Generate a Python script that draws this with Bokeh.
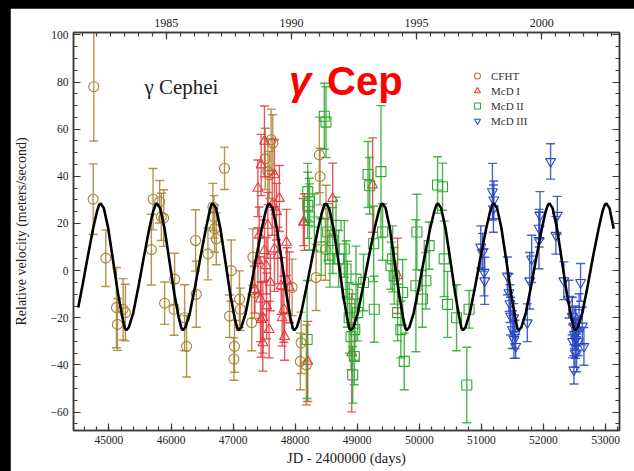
import numpy as np
from bokeh.plotting import figure
from bokeh.models import (Range1d, LinearAxis, SingleIntervalTicker,
                          Label, Legend, LegendItem)
from bokeh.layouts import column
from bokeh.embed import file_html
from bokeh.resources import INLINE

# ---------------- data ----------------
cfht_jd = [44756, 44746, 44949, 45121, 45137, 45228, 45265, 45683, 45711, 45817,
           45844, 45881, 45897, 46058, 46048, 46219, 46251, 46396, 46407, 46595,
           46675, 46691, 46701, 46729, 46862, 46970, 46943, 47023, 47013, 47103,
           47115, 47319, 47344, 47517, 47613, 47640, 47560, 47586, 47951, 48095,
           48084, 48337, 48486, 48497, 48390, 48401, 48180, 47300]
cfht_rv = [78.0, 30.3, 5.3, -15.7, -22.8, -16.4, -17.8, 8.9, 30.3, 29.2,
           22.8, 22.3, -13.8, -3.6, -16.4, -20.0, -32.1, 12.8, -10.0, 7.1,
           27.0, 22.8, 17.8, 13.5, 43.4, 0.0, -19.3, -32.1, -37.5, -12.1,
           -16.4, 5.7, -9.3, 47.4, 55.5, 54.1, 42.0, 40.6, -7.1, -30.6,
           -38.5, -2.9, 8.9, 24.2, 49.1, 39.9, -40.0, -22.0]
cfht_err = [23, 15, 12, 17, 11, 13, 12, 15, 13, 9,
            10, 12, 9, 11, 11, 14, 13, 13, 14, 11,
            10, 9, 10, 11, 9, 13, 9, 11, 9, 12,
            9, 12, 11, 13, 13, 12, 14, 10, 12, 13,
            12, 14, 13, 12, 16, 12, 17, 12]

mcd1_jd = [47399, 47441, 47452, 47479, 47505, 47533, 47560, 47666, 47721, 47774,
           47817, 47870, 47907, 48203, 48132, 47452, 47505, 47746, 47399, 47666,
           48149, 48605, 49248, 49650, 48911, 47480, 47600, 47700, 47830, 47350,
           47420, 47540, 47630, 47790, 47860, 47580]
mcd1_rv = [4.2, -12.1, -20.7, -30.6, 8.5, 2.1, 19.2, 9.2, 6.4, -6.5,
           -16.4, -4.3, -7.1, -38.5, 20.6, 44.8, 54.8, 30.6, 34.9, 40.6,
           20.6, 30.6, 36.3, -2.2, -34.9, -20.0, -5.0, 25.0, -28.0, -8.0,
           15.0, -15.0, 28.0, -20.0, 12.0, -25.0]
mcd1_err = [14, 18, 16, 12, 13, 12, 14, 18, 12, 12,
            14, 14, 15, 17, 10, 13, 15, 14, 12, 15,
            12, 15, 20, 16, 25, 15, 12, 12, 10, 10,
            12, 14, 13, 12, 14, 12]

mcd2_jd = [48203, 48229, 48192, 48525, 48605, 48203, 48229, 48470, 48497, 48309,
           48819, 48927, 48953, 48980, 49007, 48792, 48658, 49265, 49382, 49274,
           49409, 49570, 49596, 49650, 49703, 49757, 49961, 49945, 50106, 50159,
           50294, 50374, 50400, 50454, 50765, 50802, 49543, 49731, 49174, 49200,
           48870, 48900, 48700, 49100, 48420, 50050, 50600, 48560, 48840, 48960]
mcd2_rv = [27.7, 22.8, -29.2, 16.4, 12.8, 33.5, 29.2, 65.5, 63.0, 20.6,
           0.7, -44.2, -36.4, -3.6, -17.8, 9.2, 19.2, 11.4, 42.0, -16.4,
           16.4, 5.0, -2.2, -17.8, -25.0, -38.5, 16.4, -6.4, -4.3, 10.6,
           36.3, 35.6, 5.0, -14.3, -48.5, -16.4, 2.1, -9.3, 40.8, 36.0,
           -20.0, -28.0, 5.0, -5.0, 10.0, -12.0, -20.0, 5.0, -10.0, -25.0]
mcd2_err = [14, 14, 25, 12, 14, 12, 10, 14, 15, 12,
            12, 12, 12, 14, 12, 12, 12, 16, 28, 14,
            12, 14, 12, 12, 12, 12, 16, 28, 12, 10,
            12, 10, 16, 14, 16, 8, 10, 14, 14, 12,
            15, 14, 12, 12, 12, 12, 14, 12, 14, 13]

mcd3_jd = [51017, 51043, 51054, 51178, 51194, 51419, 51445, 51472, 51500, 51525,
           51553, 51740, 51778, 51810, 51928, 51944, 52115, 52223, 52329, 52410,
           52464, 52491, 52518, 52534, 52491, 52574, 52598, 52625, 52652, 51200,
           51520, 51540, 52500, 52520, 52540, 52560, 52470, 52510, 52200, 51930,
           50990, 51460]
mcd3_rv = [7.8, -0.7, -4.3, 33.5, 26.3, -2.2, -9.3, -19.3, -25.0, -29.2,
           -32.1, -22.1, -4.3, 5.0, 12.8, 23.5, 46.3, 23.5, -4.3, -12.1,
           -19.3, -23.5, -29.2, -34.9, -42.1, -17.8, -5.0, -23.5, -32.1, 30.0,
           -20.0, -27.0, -27.0, -22.0, -26.0, -30.0, -30.0, -35.0, 15.0, 18.0,
           10.0, -14.0]
mcd3_err = [8, 10, 10, 12, 10, 8, 8, 8, 8, 8,
            5, 8, 12, 10, 12, 10, 7.5, 8, 8, 8,
            8, 8, 8, 8, 6, 8, 8, 8, 8, 8,
            6, 6, 6, 7, 6, 6, 7, 6, 8, 8,
            9, 8]

# orbit fit curve
fit_jd = [44505, 44576, 44666, 44746, 44806, 44843, 44868,
          44918, 44988, 45068, 45148, 45218, 45256, 45281,
          45321, 45391, 45481, 45571, 45651, 45711, 45750, 45775,
          45825, 45895, 45975, 46055, 46125, 46168, 46193,
          46233, 46303, 46393, 46483, 46563, 46620, 46650, 46675,
          46725, 46795, 46875, 46955, 47025, 47068, 47093,
          47133, 47203, 47293, 47383, 47463, 47523, 47560, 47585,
          47635, 47705, 47785, 47860, 47925, 47962, 47987,
          48027, 48097, 48190, 48285, 48370, 48435, 48472, 48497,
          48547, 48617, 48697, 48772, 48837, 48874, 48899,
          48939, 49009, 49100, 49195, 49280, 49345, 49383, 49408,
          49458, 49525, 49600, 49675, 49740, 49775, 49799,
          49839, 49909, 50000, 50092, 50175, 50240, 50277, 50302,
          50352, 50422, 50502, 50580, 50645, 50680, 50704,
          50744, 50814, 50905, 50995, 51078, 51140, 51178, 51203,
          51253, 51323, 51403, 51480, 51545, 51580, 51605,
          51645, 51715, 51805, 51895, 51975, 52035, 52073, 52098,
          52148, 52218, 52298, 52378, 52450, 52491, 52516,
          52556, 52626, 52716, 52806, 52890, 52950, 52989, 53014,
          53064, 53132]
fit_rv = [-15.6, -6, 7, 18, 25, 28, 28.5,
          26.5, 18, 4, -10, -20, -24.5, -25.3,
          -24, -18, -6, 7, 18, 25, 28, 28.5,
          26.5, 18, 4, -10, -20, -24.5, -25.3,
          -24, -18, -6, 7, 18, 25, 28, 28.5,
          26.5, 18, 4, -10, -20, -24.5, -25.3,
          -24, -18, -6, 7, 18, 25, 28, 28.5,
          26.5, 18, 4, -10, -20, -24.5, -25.3,
          -24, -18, -6, 7, 18, 25, 28, 28.5,
          26.5, 18, 4, -10, -20, -24.5, -25.3,
          -24, -18, -6, 7, 18, 25, 28, 28.5,
          26.5, 18, 4, -10, -20, -24.5, -25.3,
          -24, -18, -6, 7, 18, 25, 28, 28.5,
          26.5, 18, 4, -10, -20, -24.5, -25.3,
          -24, -18, -6, 7, 18, 25, 28, 28.5,
          26.5, 18, 4, -10, -20, -24.5, -25.3,
          -24, -18, -6, 7, 18, 25, 28, 28.5,
          26.5, 18, 4, -10, -20, -24.5, -25.3,
          -24, -18, -6, 7, 18, 25, 28, 28.5,
          26.5, 17.8]

series_names = ["CFHT", "McD I", "McD II", "McD III"]

# ---------------- figure ----------------
SERIF = "Liberation Serif"
AX = "#3a3a3a"

p = figure(width=624, height=463, x_range=Range1d(44429, 53225), y_range=Range1d(-67.8, 101.0),
           output_backend="svg", toolbar_location=None,
           min_border_left=62, min_border_top=24, min_border_right=15, min_border_bottom=41,
           background_fill_color="white", border_fill_color="white")
p.margin = (8, 0, 0, 10)
p.grid.visible = False
p.outline_line_color = AX
p.outline_line_width = 1.5

xt = SingleIntervalTicker(interval=1000, num_minor_ticks=5)
yt = SingleIntervalTicker(interval=20, num_minor_ticks=4)


def style_axis(ax):
    ax.major_tick_in = 7
    ax.major_tick_out = 0
    ax.minor_tick_in = 4
    ax.minor_tick_out = 0
    ax.axis_line_color = AX
    ax.axis_line_width = 1.5
    ax.major_tick_line_color = AX
    ax.minor_tick_line_color = AX
    ax.major_tick_line_width = 1.2
    ax.minor_tick_line_width = 1.2
    ax.major_label_text_font = SERIF
    ax.major_label_text_font_size = "11.5px"
    ax.major_label_text_color = "#222222"
    ax.axis_label_text_font = SERIF
    ax.axis_label_text_font_style = "normal"
    ax.axis_label_text_color = "#222222"


xa = p.xaxis[0]
xa.ticker = xt
style_axis(xa)
xa.major_label_standoff = 5
xa.axis_label = "JD - 2400000 (days)"
xa.axis_label_text_font_size = "14.5px"
xa.axis_label_standoff = 3

ya = p.yaxis[0]
ya.ticker = yt
style_axis(ya)
ya.major_label_standoff = 5
ya.axis_label = "Relative velocity (meters/second)"
ya.axis_label_text_font_size = "14px"
ya.axis_label_standoff = 19

# top axis: calendar years, with ticks on the frame
p.extra_x_ranges = {"yr": Range1d(1981.29, 2003.11)}
yr_ax = LinearAxis(x_range_name="yr", ticker=SingleIntervalTicker(interval=5, num_minor_ticks=9))
style_axis(yr_ax)
yr_ax.major_label_text_font_size = "12px"
yr_ax.major_label_standoff = 6
p.add_layout(yr_ax, "above")

# right axis: ticks only (labels not painted)
right_ax = LinearAxis(ticker=yt)
style_axis(right_ax)
right_ax.major_label_text_font_size = "1px"
right_ax.major_label_text_color = None
right_ax.major_label_standoff = 0
p.add_layout(right_ax, "right")

# ---------------- series ----------------
colors = ["#A8822E", "#E23A3F", "#2FA82F", "#2848C2"]
markers = ["circle", "triangle", "square", "inverted_triangle"]
all_data = [(cfht_jd, cfht_rv, cfht_err), (mcd1_jd, mcd1_rv, mcd1_err),
            (mcd2_jd, mcd2_rv, mcd2_err), (mcd3_jd, mcd3_rv, mcd3_err)]

items = []
for (jd, rv, err), c, m, name in zip(all_data, colors, markers, series_names):
    jd = np.array(jd, dtype=float)
    rv = np.array(rv, dtype=float)
    err = np.array(err, dtype=float)
    lo = rv - err
    hi = rv + err
    p.segment(jd, lo, jd, hi, line_color=c, line_width=1.4, line_alpha=0.85)
    p.scatter(jd, hi, marker="dash", size=9, line_color=c, line_width=1.4, line_alpha=0.85)
    p.scatter(jd, lo, marker="dash", size=9, line_color=c, line_width=1.4, line_alpha=0.85)
    r = p.scatter(jd, rv, marker=m, size=10, fill_color=None, line_color=c, line_width=1.1)
    items.append(LegendItem(label=name, renderers=[r]))

p.line(fit_jd, fit_rv, line_color="black", line_width=2.6)

legend = Legend(items=items, location=(396, 302))
legend.border_line_color = None
legend.background_fill_alpha = 0
legend.label_text_font = SERIF
legend.label_text_font_size = "11px"
legend.label_text_color = "#333333"
legend.glyph_width = 16
legend.glyph_height = 15
legend.label_height = 15
legend.label_standoff = 6
legend.spacing = 0
legend.padding = 0
legend.margin = 0
p.add_layout(legend)

p.add_layout(Label(x=45571, y=77.8, text="γ Cephei", text_font=SERIF, text_font_size="21px",
                   text_color="#222222", text_baseline="alphabetic"))
p.add_layout(Label(x=47902, y=80.6, text="γ", text_font="Liberation Sans", text_font_size="40px",
                   text_font_style="bold italic", text_color="#FF0000", text_baseline="alphabetic"))
p.add_layout(Label(x=48513, y=80.6, text="Cep", text_font="Liberation Sans", text_font_size="40px",
                   text_font_style="bold", text_color="#FF0000", text_baseline="alphabetic"))

layout = column(p, styles={"background-color": "black"}, width=634, height=471)
open("out.html", "w").write(file_html(layout, INLINE))
